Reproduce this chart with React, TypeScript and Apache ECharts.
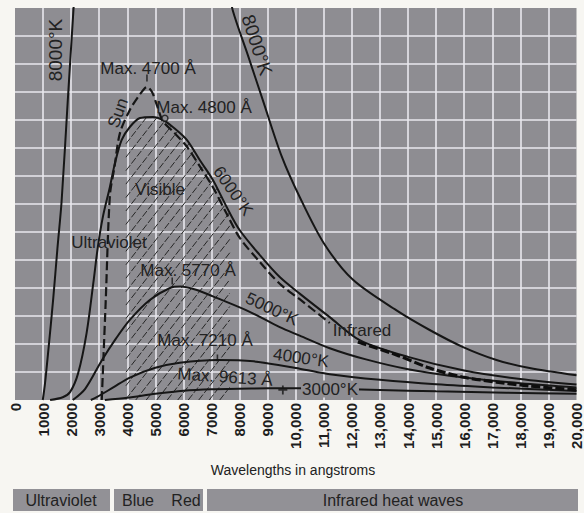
import React, { useEffect, useRef } from "react";
import * as echarts from "echarts";

// Wavelength axis (angstroms) and relative intensity (arbitrary units)
const wavelengthTicks = [0, 1000, 2000, 3000, 4000, 5000, 6000, 7000, 8000, 9000, 10000, 11000, 12000, 13000, 14000, 15000, 16000, 17000, 18000, 19000, 20000];
const xMax = 20000;
const yMax = 14;

// 8000 K curve: rising branch (left) and falling branch (right); peak is off the chart
const curve8000Left: [number, number][] = [
  [990, 0.0], [1070, 0.6], [1190, 1.8], [1360, 3.6], [1510, 5.4], [1660, 7.1], [1880, 10.7], [2080, 13.9], [2150, 15.0],
];
const curve8000Right: [number, number][] = [
  [7650, 14.6], [7760, 13.9], [8300, 12.3], [8830, 10.7], [9500, 8.7], [10140, 7.25], [11000, 5.6], [12030, 4.3],
  [13590, 3.2], [14770, 2.5], [15940, 1.9], [17150, 1.43], [18330, 1.14], [20000, 0.88],
];
const curve6000: [number, number][] = [
  [1250, 0.0], [1700, 0.1], [1960, 0.28], [2250, 0.96], [2550, 2.39], [2790, 4.18], [2950, 5.46], [3130, 6.54],
  [3380, 7.61], [3560, 8.46], [3800, 9.29], [4090, 9.75], [4450, 10.07], [4910, 10.11], [5270, 10.0], [5620, 9.75],
  [6120, 9.29], [6580, 8.57], [7050, 7.86], [7540, 6.89], [8000, 6.07], [8700, 5.2], [9430, 4.39], [10140, 3.8],
  [11210, 2.96], [12280, 2.14], [14000, 1.54], [16000, 1.05], [18000, 0.75], [20000, 0.55],
];
const curve5000: [number, number][] = [
  [2060, 0.0], [2500, 0.4], [3100, 1.43], [3600, 2.2], [4090, 2.86], [4800, 3.57], [5520, 4.0], [5900, 4.05],
  [6500, 3.92], [7050, 3.7], [8360, 3.15], [9430, 2.6], [10140, 2.3], [11210, 1.85], [12500, 1.45], [14000, 1.1],
  [16000, 0.8], [18000, 0.6], [20000, 0.45],
];
const curve4000: [number, number][] = [
  [2700, 0.0], [2910, 0.1], [3500, 0.45], [4090, 0.8], [5000, 1.15], [5870, 1.33], [7210, 1.43], [8500, 1.38],
  [10140, 1.12], [11210, 0.92], [13000, 0.72], [15000, 0.56], [17000, 0.45], [20000, 0.32],
];
const curve3000: [number, number][] = [
  [3200, 0.0], [4000, 0.08], [5000, 0.22], [6000, 0.33], [7000, 0.38], [8500, 0.41], [9613, 0.42], [11000, 0.41],
  [13000, 0.36], [15000, 0.31], [17500, 0.26], [20000, 0.22],
];
// Solar spectrum (dashed): ultraviolet cut-off, visible part, and infrared part with absorption bands
const sunVisible: [number, number][] = [
  [3090, 0.0], [3230, 3.5], [3380, 7.3], [3540, 8.3], [3740, 9.54], [4090, 10.36], [4380, 10.82], [4630, 11.14],
  [4700, 11.18], [4880, 11.0], [5050, 10.54], [5270, 9.95], [5620, 9.6], [6120, 9.05], [6580, 8.35], [7050, 7.6],
  [7540, 6.65], [8000, 5.8], [8700, 4.95], [9430, 4.15], [10140, 3.6], [11210, 2.75],
];
const sunInfrared: [number, number][] = [
  [12210, 2.07], [13590, 1.61], [14770, 1.14], [15940, 0.82], [17150, 0.64], [18330, 0.5], [20000, 0.36],
];
// Visible band (hatched) under the 6000 K curve
const visibleBand: [number, number] = [3950, 7650];
// Small marks at the maxima
const maxTicks: [number, number][] = [[4700, 11.5], [5600, 4.25], [7210, 1.5]];
const maxCross: [number, number][] = [[9540, 0.36]];
const maxCircle: [number, number][] = [[5340, 10.06]];

const INK = "#161616";
const FONT = "'Liberation Sans', Arial, sans-serif";

function valueAt(curve: [number, number][], x: number): number {
  for (let i = 0; i < curve.length - 1; i++) {
    const [x0, y0] = curve[i];
    const [x1, y1] = curve[i + 1];
    if (x >= x0 && x <= x1) return y0 + ((y1 - y0) * (x - x0)) / (x1 - x0);
  }
  return 0;
}

function lineSeries(name: string, data: [number, number][], extra: any = {}) {
  return {
    name,
    type: "line",
    data,
    showSymbol: false,
    smooth: 0.3,
    clip: true,
    silent: true,
    z: 5,
    lineStyle: { color: INK, width: 2, ...(extra.lineStyle || {}) },
  };
}

function label(text: string, x: number, y: number, size: number, rotDeg = 0, extra: any = {}) {
  return {
    type: "text",
    x,
    y,
    rotation: (rotDeg * Math.PI) / 180,
    z: 20,
    style: {
      text,
      fontSize: size,
      fontFamily: FONT,
      fill: "#222222",
      align: "center",
      verticalAlign: "middle",
      ...extra,
    },
  };
}

export default function App() {
  const ref = useRef<HTMLDivElement>(null);

  useEffect(() => {
    if (!ref.current) return;
    const chart = echarts.init(ref.current, undefined, { renderer: "svg" });
    const gridLine = { show: true, showMinLine: false, showMaxLine: false, lineStyle: { color: "#e9e8ee", width: 1.6 } };

    const hatchSeries = {
      type: "custom",
      data: [[visibleBand[0], 0]],
      clip: true,
      silent: true,
      z: 2,
      renderItem: (params: any, api: any) => {
        const [from, to] = visibleBand;
        const poly: number[][] = [];
        poly.push(api.coord([from, 0]));
        poly.push(api.coord([from, valueAt(curve6000, from)]));
        curve6000.forEach(([x, y]) => {
          if (x > from && x < to) poly.push(api.coord([x, y]));
        });
        poly.push(api.coord([to, valueAt(curve6000, to)]));
        poly.push(api.coord([to, 0]));
        const xs = poly.map((p) => p[0]);
        const ys = poly.map((p) => p[1]);
        const minX = Math.min(...xs);
        const maxX = Math.max(...xs);
        const minY = Math.min(...ys);
        const maxY = Math.max(...ys);
        const ang = (52 * Math.PI) / 180;
        const dx = Math.cos(ang);
        const dy = -Math.sin(ang);
        const span = ((maxY - minY) * dx) / -dy;
        const children: any[] = [];
        for (let sx = minX - span; sx <= maxX; sx += 10.5) {
          const ax = sx;
          const ay = maxY;
          const ts: number[] = [];
          for (let i = 0; i < poly.length; i++) {
            const p = poly[i];
            const q = poly[(i + 1) % poly.length];
            const ex = q[0] - p[0];
            const ey = q[1] - p[1];
            const den = dx * ey - dy * ex;
            if (Math.abs(den) < 1e-9) continue;
            const wx = p[0] - ax;
            const wy = p[1] - ay;
            const t = (wx * ey - wy * ex) / den;
            const s = (wx * dy - wy * dx) / den;
            if (s >= 0 && s < 1) ts.push(t);
          }
          ts.sort((a, b) => a - b);
          for (let k = 0; k + 1 < ts.length; k += 2) {
            children.push({
              type: "line",
              shape: { x1: ax + ts[k] * dx, y1: ay + ts[k] * dy, x2: ax + ts[k + 1] * dx, y2: ay + ts[k + 1] * dy },
              style: { stroke: "#262626", lineWidth: 1, lineDash: [7, 2] },
            });
          }
        }
        return { type: "group", children };
      },
    };

    const option: any = {
      animation: false,
      backgroundColor: "#f7f6f2",
      grid: { left: 15, right: 7, top: 8, bottom: 113, show: true, backgroundColor: "#8e8d92", borderWidth: 0 },
      xAxis: {
        type: "value",
        min: 0,
        max: xMax,
        interval: 1000,
        axisLine: { show: false },
        axisTick: { show: false },
        splitLine: gridLine,
        axisLabel: {
          rotate: 90,
          margin: 3,
          color: "#1e1e1e",
          fontWeight: "bold",
          fontSize: 15,
          fontFamily: FONT,
          showMinLabel: true,
          showMaxLabel: true,
          formatter: (v: number) => {
            const t = wavelengthTicks.find((w) => w === v);
            if (t === undefined) return "";
            return t >= 10000 ? `${Math.floor(t / 1000)},000` : String(t);
          },
        },
      },
      yAxis: {
        type: "value",
        min: 0,
        max: yMax,
        interval: 1,
        axisLine: { show: false },
        axisTick: { show: false },
        axisLabel: { show: false },
        splitLine: gridLine,
      },
      series: [
        hatchSeries,
        lineSeries("8000 K left", curve8000Left),
        lineSeries("8000 K right", curve8000Right),
        lineSeries("6000 K", curve6000),
        lineSeries("5000 K", curve5000),
        lineSeries("4000 K", curve4000),
        lineSeries("3000 K", curve3000),
        lineSeries("Sun", sunVisible, { lineStyle: { type: [9, 4], width: 2.2 } }),
        lineSeries("Sun infrared", sunInfrared, { lineStyle: { type: [9, 3], width: 3.2, color: "#0e0e0e" } }),
        {
          type: "scatter",
          data: maxTicks,
          symbol: "rect",
          symbolSize: [1.6, 7],
          itemStyle: { color: INK },
          silent: true,
          z: 6,
        },
        {
          type: "scatter",
          data: maxCross,
          symbol: "path://M4,0L6,0L6,4L10,4L10,6L6,6L6,10L4,10L4,6L0,6L0,4L4,4Z",
          symbolSize: 9,
          itemStyle: { color: INK },
          silent: true,
          z: 6,
        },
        {
          type: "scatter",
          data: maxCircle,
          symbol: "circle",
          symbolSize: 6,
          itemStyle: { color: "#8e8d92", borderColor: INK, borderWidth: 1.5 },
          silent: true,
          z: 6,
        },
      ],
      graphic: [
        label("8000°K", 55, 50, 19, 90),
        label("8000°K", 257, 45, 19, -72),
        label("Max. 4700 Å", 148, 68, 17),
        label("Sun", 118, 113, 17, 70),
        label("Max. 4800 Å", 204, 107, 17),
        label("Visible", 160, 189, 17),
        label("6000°K", 233, 191, 17, -55),
        label("Ultraviolet", 109, 242, 17),
        label("Max. 5770 Å", 188, 270, 17),
        label("5000°K", 272, 309, 17, -25),
        label("Infrared", 362, 330, 17),
        label("Max. 7210 Å", 205, 340, 17),
        label("4000°K", 301, 358, 17, -8),
        label("Max. 9613 Å", 225, 377, 17, -4),
        label("3000°K", 330, 389, 17, 0, { backgroundColor: "#8e8d92", padding: [0, 1] }),
        label("Wavelengths in angstroms", 293, 470, 14),
        { type: "rect", shape: { x: 13, y: 489, width: 97, height: 22 }, style: { fill: "#929196" }, z: 10 },
        { type: "rect", shape: { x: 114, y: 489, width: 89, height: 22 }, style: { fill: "#929196" }, z: 10 },
        { type: "rect", shape: { x: 207, y: 489, width: 371, height: 22 }, style: { fill: "#929196" }, z: 10 },
        label("Ultraviolet", 61, 500, 16),
        label("Blue", 138, 500, 16),
        label("Red", 186, 500, 16),
        label("Infrared heat waves", 393, 500, 16),
      ],
    };
    chart.setOption(option);
    return () => chart.dispose();
  }, []);

  return (
    <div
      ref={ref}
      style={{ position: "absolute", left: 0, top: 0, width: 584, height: 513 }}
    />
  );
}
